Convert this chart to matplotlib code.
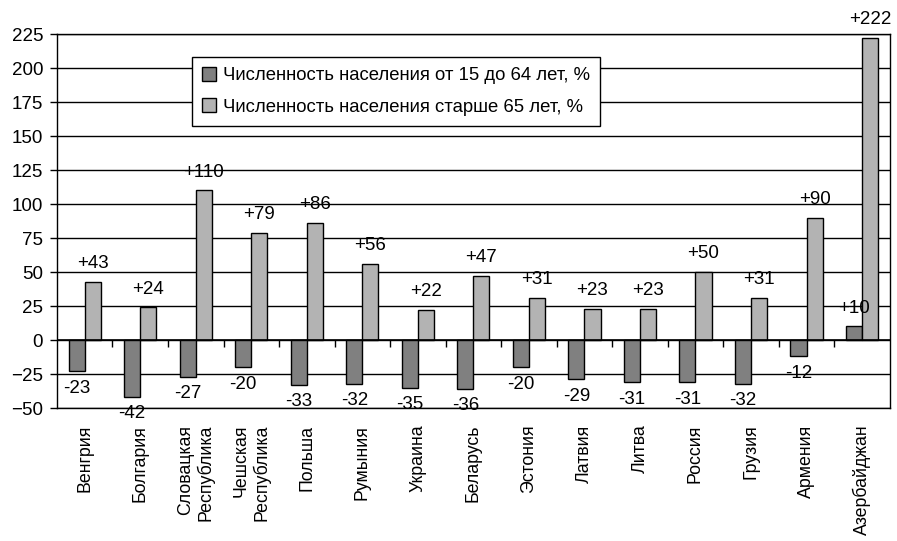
import matplotlib.pyplot as plt
import numpy as np

plt.rcParams['font.family'] = ['Liberation Sans', 'DejaVu Sans']

countries = ['Венгрия', 'Болгария', 'Словацкая\nРеспублика', 'Чешская\nРеспублика',
             'Польша', 'Румыния', 'Украина', 'Беларусь', 'Эстония', 'Латвия',
             'Литва', 'Россия', 'Грузия', 'Армения', 'Азербайджан']
working_age = [-23, -42, -27, -20, -33, -32, -35, -36, -20, -29, -31, -31, -32, -12, 10]
elderly = [43, 24, 110, 79, 86, 56, 22, 47, 31, 23, 23, 50, 31, 90, 222]

dark_grey = '#808080'
light_grey = '#b3b3b3'
fs = 13.5

fig = plt.figure(figsize=(8.97, 5.41), dpi=100)
ax = fig.add_axes([0.0635, 0.2458, 0.9285, 0.6912])

x = np.arange(len(countries))
w = 0.29

ax.set_axisbelow(True)
ax.yaxis.grid(True, color='black', lw=1)
ax.bar(x - w / 2, working_age, w, color=dark_grey, edgecolor='black', lw=1,
       label='Численность населения от 15 до 64 лет, %')
ax.bar(x + w / 2, elderly, w, color=light_grey, edgecolor='black', lw=1,
       label='Численность населения старше 65 лет, %')

# подписи значений
def fmt(v):
    return f'+{v}' if v > 0 else f'-{abs(v)}'

for xi, v in zip(x - w / 2, working_age):
    ax.annotate(fmt(v), (xi, v), xytext=(0, 7 if v > 0 else -6), textcoords='offset points',
                ha='center', va='bottom' if v > 0 else 'top', fontsize=fs, annotation_clip=False)
for xi, v in zip(x + w / 2, elderly):
    ax.annotate(fmt(v), (xi, v), xytext=(0, 7), textcoords='offset points',
                ha='center', va='bottom', fontsize=fs, annotation_clip=False)

# нулевая линия и засечки между категориями
ax.axhline(0, color='black', lw=1.2)
ax.vlines(x[:-1] + 0.5, -5, 0, color='black', lw=1)

ax.set_xlim(-0.5, len(countries) - 0.5)
ax.set_ylim(-50, 225)
ax.set_yticks(np.arange(-50, 226, 25))
ax.set_xticks(x)
ax.set_xticklabels(countries, rotation=90, fontsize=12.8, multialignment='right')
ax.tick_params(axis='x', length=0, pad=12)
ax.tick_params(axis='y', labelsize=fs, length=5, width=1, pad=5)

for s in ax.spines.values():
    s.set_color('black')
    s.set_linewidth(1)

leg = ax.legend(loc='upper left', bbox_to_anchor=(0.162, 0.9385), borderaxespad=0,
                fontsize=13.3, fancybox=False, edgecolor='black', framealpha=1,
                handlelength=0.75, handleheight=0.75, handletextpad=0.4,
                borderpad=0.55, labelspacing=0.75)
leg.get_frame().set_linewidth(1)

fig.savefig('out.png', dpi=100)
